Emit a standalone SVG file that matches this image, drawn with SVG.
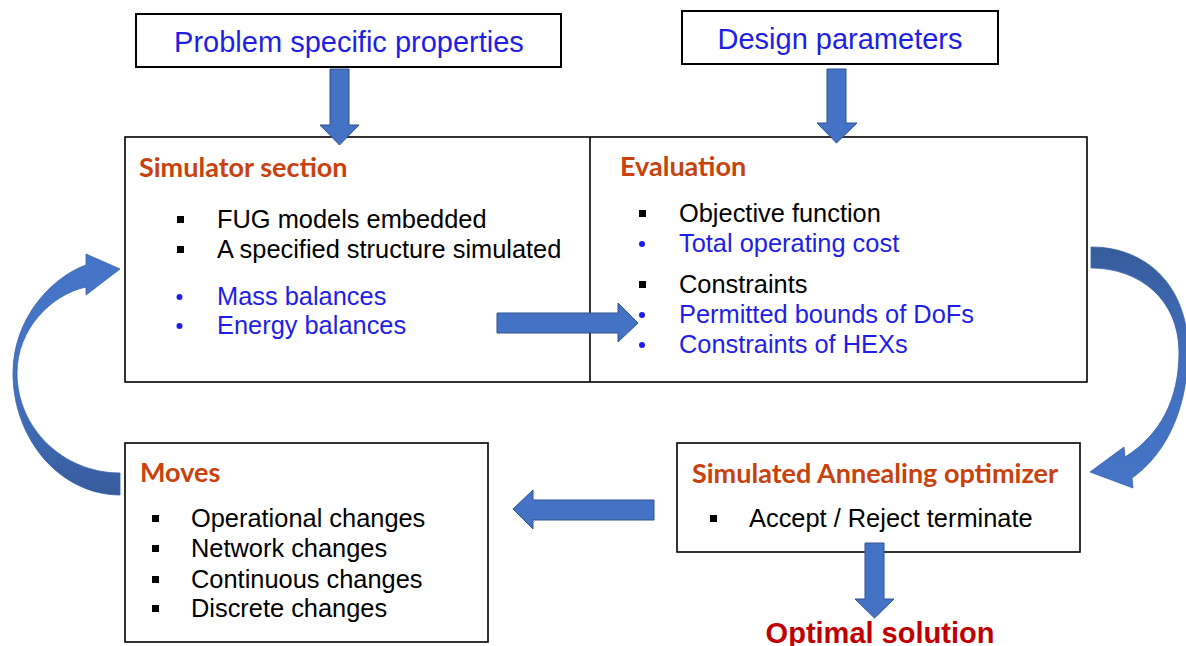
<svg xmlns="http://www.w3.org/2000/svg" width="1186" height="646" viewBox="0 0 1186 646">
<defs>
<linearGradient id="gLeft" x1="0" y1="265" x2="0" y2="495" gradientUnits="userSpaceOnUse">
<stop offset="0" stop-color="#4674C6"/><stop offset="0.5" stop-color="#4472C4"/><stop offset="1" stop-color="#375C9C"/>
</linearGradient>
<linearGradient id="gRight" x1="0" y1="247" x2="0" y2="488" gradientUnits="userSpaceOnUse">
<stop offset="0" stop-color="#375C9C"/><stop offset="0.5" stop-color="#4270BF"/><stop offset="1" stop-color="#4674C6"/>
</linearGradient>
</defs>
<style>
.box{fill:#fff;stroke:#000;stroke-width:1.6}
.tbox{fill:#fff;stroke:#000;stroke-width:2}
.top{font-family:"Liberation Sans",Arial,sans-serif;font-size:29px;fill:#1E1EE6;text-anchor:middle}
.hd{font-family:Lato,"Open Sans",sans-serif;font-weight:bold;font-size:27px;fill:#C8420E}
.tx{font-family:"Liberation Sans",Arial,sans-serif;font-size:25.4px;fill:#000}
.bl{font-family:"Liberation Sans",Arial,sans-serif;font-size:25.4px;fill:#1E1EE6}
.sq{fill:#000}
.dot{fill:#1E1EE6}
.arr{fill:#4472C4;stroke:#2F528F;stroke-width:1}
.opt{font-family:"Liberation Sans",Arial,sans-serif;font-weight:bold;font-size:29px;fill:#C00000;text-anchor:middle}
</style>
<rect width="1186" height="646" fill="#fff"/>

<g id="node-problem">
<rect class="tbox" x="136" y="14" width="425" height="53"/>
<text class="top" x="349" y="52">Problem specific properties</text>
</g>

<g id="node-design">
<rect class="tbox" x="682" y="11" width="316" height="53"/>
<text class="top" x="840" y="49">Design parameters</text>
</g>

<g id="node-main">
<rect class="box" x="125" y="137" width="962" height="245"/>
<line x1="590" y1="137" x2="590" y2="382" stroke="#000" stroke-width="1.6"/>
</g>

<g id="node-simulator">
<text class="hd" x="139" y="177">Simulator section</text>
<rect class="sq" x="177" y="216" width="7" height="7"/>
<text class="tx" x="217" y="228">FUG models embedded</text>
<rect class="sq" x="177" y="246" width="7" height="7"/>
<text class="tx" x="217" y="258">A specified structure simulated</text>
<circle class="dot" cx="179.5" cy="297" r="3"/>
<text class="bl" x="217" y="305">Mass balances</text>
<circle class="dot" cx="179.5" cy="326" r="3"/>
<text class="bl" x="217" y="334">Energy balances</text>
</g>

<g id="node-evaluation">
<text class="hd" x="620" y="176">Evaluation</text>
<rect class="sq" x="639" y="210" width="7" height="7"/>
<text class="tx" x="679" y="222">Objective function</text>
<circle class="dot" cx="642" cy="244" r="3"/>
<text class="bl" x="679" y="252">Total operating cost</text>
<rect class="sq" x="639" y="281" width="7" height="7"/>
<text class="tx" x="679" y="293">Constraints</text>
<circle class="dot" cx="642" cy="315" r="3"/>
<text class="bl" x="679" y="323">Permitted bounds of DoFs</text>
<circle class="dot" cx="642" cy="345" r="3"/>
<text class="bl" x="679" y="353">Constraints of HEXs</text>
</g>

<g id="node-moves">
<rect class="box" x="125" y="443" width="363" height="199"/>
<text class="hd" x="140" y="482">Moves</text>
<rect class="sq" x="152" y="515" width="7" height="7"/>
<text class="tx" x="191" y="527">Operational changes</text>
<rect class="sq" x="152" y="545" width="7" height="7"/>
<text class="tx" x="191" y="557">Network changes</text>
<rect class="sq" x="152" y="576" width="7" height="7"/>
<text class="tx" x="191" y="588">Continuous changes</text>
<rect class="sq" x="152" y="605" width="7" height="7"/>
<text class="tx" x="191" y="617">Discrete changes</text>
</g>

<g id="node-optimizer">
<rect class="box" x="677" y="443" width="403" height="109"/>
<text class="hd" x="692" y="483">Simulated Annealing optimizer</text>
<rect class="sq" x="710" y="515" width="7" height="7"/>
<text class="tx" x="749" y="527">Accept / Reject terminate</text>
</g>

<g id="node-optimal">
<text class="opt" x="880" y="643">Optimal solution</text>
</g>

<g id="connectors">
<path class="arr" d="M330,69 L349,69 L349,125 L359,125 L339.5,145 L320,125 L330,125 Z"/>
<path class="arr" d="M827,69 L846,69 L846,123 L857,123 L836.5,143 L817,123 L827,123 Z"/>
<path class="arr" d="M497,313 L618,313 L618,303 L638,323 L618,342 L618,333 L497,333 Z"/>
<path class="arr" d="M654,500 L533,500 L533,490 L513,509 L533,529 L533,520 L654,520 Z"/>
<path class="arr" d="M865,543 L884,543 L884,599 L894,599 L874.5,618 L855,599 L865,599 Z"/>
<path fill="url(#gLeft)" stroke="#3A63A8" stroke-width="0.8" d="M120,495 C61,495 13,440 13,373 C13,320 50,278 86,265 L86,254 L120,269 L86,295 L86,287 C50,295 17,330 17,373 C17,428 63,473 120,473 Z"/>
<path fill="url(#gRight)" stroke="#3A63A8" stroke-width="0.8" d="M1091,247 C1150,247 1188,290 1188,350 C1188,410 1165,455 1132,478 L1133,488 L1090,472 L1124,447 L1125,457 C1160,435 1179,400 1179,352 C1179,300 1140,268 1091,268 Z"/>
</g>
</svg>
